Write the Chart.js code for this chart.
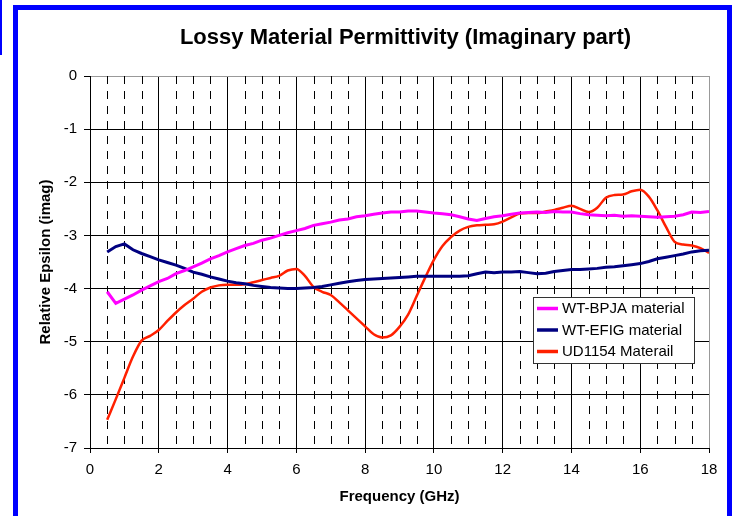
<!DOCTYPE html>
<html>
<head>
<meta charset="utf-8">
<script src="https://cdn.jsdelivr.net/npm/chart.js@4.4.1/dist/chart.umd.min.js"></script>
<style>
  body { margin: 0; background: #fff; }
  #wrap { position: relative; width: 735px; height: 516px; overflow: hidden; background: #fff; }
  .frame { position: absolute; left: 13px; top: 5px; width: 709px; height: 600px; border: 5px solid #0000ff; }
  .edge { position: absolute; left: 0; top: 0; width: 2px; height: 55px; background: #0000ff; }
  canvas { position: absolute; left: 0; top: 0; }
</style>
</head>
<body>
<div id="wrap">
  <div class="edge"></div>
  <div class="frame"></div>
  <canvas id="chart" width="735" height="516"></canvas>
</div>
<script>
// frequency points (GHz)
var freq = [
  0.5, 0.75, 1, 1.25, 1.5, 1.75, 2, 2.25, 2.5, 2.75,
  3, 3.25, 3.5, 3.75, 4, 4.25, 4.5, 4.75, 5, 5.25,
  5.5, 5.75, 6, 6.25, 6.5, 6.75, 7, 7.25, 7.5, 7.75,
  8, 8.25, 8.5, 8.75, 9, 9.25, 9.5, 9.75, 10, 10.25,
  10.5, 10.75, 11, 11.25, 11.5, 11.75, 12, 12.25, 12.5, 12.75,
  13, 13.25, 13.5, 13.75, 14, 14.25, 14.5, 14.75, 15, 15.25,
  15.5, 15.75, 16, 16.25, 16.5, 16.75, 17, 17.25, 17.5, 17.75,
  18
];

var bpja = [
  -4.06, -4.28, -4.20, -4.12, -4.03, -3.95, -3.87, -3.81, -3.72, -3.66,
  -3.59, -3.52, -3.44, -3.38, -3.31, -3.25, -3.19, -3.15, -3.09, -3.05,
  -3.00, -2.95, -2.91, -2.87, -2.81, -2.78, -2.75, -2.71, -2.69, -2.65,
  -2.63, -2.60, -2.58, -2.56, -2.56, -2.54, -2.54, -2.56, -2.58, -2.59,
  -2.61, -2.65, -2.69, -2.72, -2.68, -2.65, -2.63, -2.60, -2.58, -2.57,
  -2.56, -2.57, -2.55, -2.56, -2.56, -2.59, -2.61, -2.62, -2.63, -2.62,
  -2.64, -2.63, -2.64, -2.65, -2.66, -2.65, -2.64, -2.61, -2.56, -2.57,
  -2.55
];

var efig = [
  -3.31, -3.21, -3.16, -3.27, -3.34, -3.40, -3.46, -3.51, -3.56, -3.62,
  -3.69, -3.73, -3.78, -3.82, -3.86, -3.89, -3.91, -3.94, -3.96, -3.98,
  -3.99, -4.00, -4.00, -3.99, -3.98, -3.96, -3.93, -3.90, -3.87, -3.85,
  -3.83, -3.82, -3.81, -3.80, -3.79, -3.78, -3.77, -3.77, -3.77, -3.77,
  -3.77, -3.77, -3.76, -3.72, -3.69, -3.70, -3.69, -3.69, -3.68, -3.70,
  -3.72, -3.71, -3.68, -3.66, -3.64, -3.64, -3.63, -3.62, -3.60, -3.59,
  -3.57, -3.55, -3.53, -3.49, -3.44, -3.41, -3.38, -3.35, -3.31, -3.29,
  -3.28
];

var ud1154 = [
  -6.47, -6.08, -5.68, -5.28, -4.98, -4.89, -4.78, -4.61, -4.45, -4.31,
  -4.19, -4.06, -3.98, -3.94, -3.93, -3.93, -3.92, -3.88, -3.84, -3.80,
  -3.76, -3.66, -3.63, -3.76, -3.97, -4.06, -4.12, -4.26, -4.41, -4.56,
  -4.71, -4.86, -4.92, -4.88, -4.72, -4.49, -4.14, -3.79, -3.46, -3.20,
  -3.03, -2.91, -2.84, -2.81, -2.80, -2.79, -2.74, -2.66, -2.59, -2.58,
  -2.58, -2.55, -2.52, -2.48, -2.44, -2.50, -2.56, -2.48, -2.29, -2.24,
  -2.23, -2.17, -2.14, -2.27, -2.53, -2.84, -3.12, -3.17, -3.19, -3.24,
  -3.33
];

var seriesNames = ['WT-BPJA material', 'WT-EFIG material', 'UD1154 Materail'];
var seriesColors = ['#ff00ff', '#000080', '#ff2000'];
var chartTitle = 'Lossy Material Permittivity (Imaginary part)';

var FONT = 'Liberation Sans, Arial, sans-serif';

function points(ys) {
    var out = [];
    for (var i = 0; i < freq.length; i++) {
        out.push({x: freq[i], y: ys[i]});
    }
    return out;
}

// title centred over the plot, not over the whole canvas
var plotTitle = {
    id: 'plotTitle',
    afterDraw: function(chart) {
        var ctx = chart.ctx, a = chart.chartArea;
        ctx.save();
        ctx.font = 'bold 22px ' + FONT;
        ctx.fillStyle = '#000';
        ctx.textAlign = 'center';
        ctx.textBaseline = 'middle';
        ctx.fillText(chartTitle, (a.left + a.right) / 2 + 6, 38);
        ctx.restore();
    }
};

// dashed lines at every 0.5 GHz between the solid 2 GHz lines
var minorGrid = {
    id: 'minorGrid',
    beforeDatasetsDraw: function(chart) {
        var ctx = chart.ctx, a = chart.chartArea, x = chart.scales.x;
        ctx.save();
        ctx.strokeStyle = '#000';
        ctx.lineWidth = 1;
        ctx.setLineDash([8, 7]);
        for (var v = 0.5; v < 18; v += 0.5) {
            if (v % 2 === 0) continue;
            var px = Math.round(x.getPixelForValue(v)) + 0.5;
            ctx.beginPath();
            ctx.moveTo(px, a.top);
            ctx.lineTo(px, a.bottom);
            ctx.stroke();
        }
        ctx.restore();
    }
};

// boxed legend sitting inside the plot
var boxLegend = {
    id: 'boxLegend',
    afterDraw: function(chart) {
        var ctx = chart.ctx;
        var bx = 533, by = 297, bw = 161, bh = 66;
        ctx.save();
        ctx.fillStyle = '#fff';
        ctx.fillRect(bx, by, bw, bh);
        ctx.strokeStyle = '#333';
        ctx.lineWidth = 1;
        ctx.strokeRect(bx + 0.5, by + 0.5, bw, bh);
        ctx.font = '15px ' + FONT;
        ctx.textBaseline = 'middle';
        chart.data.datasets.forEach(function(ds, i) {
            var y = by + 11.5 + i * 21.5;
            ctx.strokeStyle = ds.borderColor;
            ctx.lineWidth = 3.5;
            ctx.beginPath();
            ctx.moveTo(537, y);
            ctx.lineTo(558, y);
            ctx.stroke();
            ctx.fillStyle = '#000';
            ctx.fillText(ds.label, 562, y + 0.5);
        });
        ctx.restore();
    }
};

var datasets = [bpja, efig, ud1154].map(function(ys, i) {
    return {
        label: seriesNames[i],
        data: points(ys),
        borderColor: seriesColors[i],
        backgroundColor: seriesColors[i],
        borderWidth: i === 2 ? 2.5 : 3,
        pointRadius: 0,
        fill: false,
        cubicInterpolationMode: i === 2 ? 'monotone' : 'default',
        tension: i === 2 ? 0.4 : 0
    };
});

new Chart(document.getElementById('chart'), {
    type: 'line',
    data: { datasets: datasets },
    options: {
        responsive: false,
        animation: false,
        layout: { padding: { left: 0, right: 26, top: 76, bottom: 0 } },
        plugins: {
            legend: { display: false },
            tooltip: { enabled: false },
            title: { display: false }
        },
        scales: {
            x: {
                type: 'linear',
                min: 0,
                max: 18,
                afterFit: function(s) { s.height = 68; },
                ticks: { stepSize: 2, color: '#000', padding: 8, font: { family: FONT, size: 15 } },
                grid: {
                    color: function(c) { return c.tick && c.tick.value === 18 ? '#999' : '#000'; },
                    tickColor: '#000',
                    lineWidth: 1,
                    tickLength: 5
                },
                border: { color: '#000', width: 1 },
                title: {
                    display: true,
                    text: 'Frequency (GHz)',
                    color: '#000',
                    font: { family: FONT, size: 15, weight: 'bold' },
                    padding: { top: 0, bottom: 10 }
                }
            },
            y: {
                min: -7,
                max: 0,
                afterFit: function(s) { s.width = 90; },
                ticks: { stepSize: 1, color: '#000', padding: 7, font: { family: FONT, size: 15 } },
                grid: {
                    color: function(c) { return c.tick && c.tick.value === 0 ? '#999' : '#000'; },
                    tickColor: '#000',
                    lineWidth: 1,
                    tickLength: 6
                },
                border: { color: '#000', width: 1 },
                title: {
                    display: true,
                    text: 'Relative Epsilon (imag)',
                    color: '#000',
                    font: { family: FONT, size: 15, weight: 'bold' },
                    padding: { top: 37, bottom: 0 }
                }
            }
        }
    },
    plugins: [minorGrid, plotTitle, boxLegend]
});
</script>
</body>
</html>
